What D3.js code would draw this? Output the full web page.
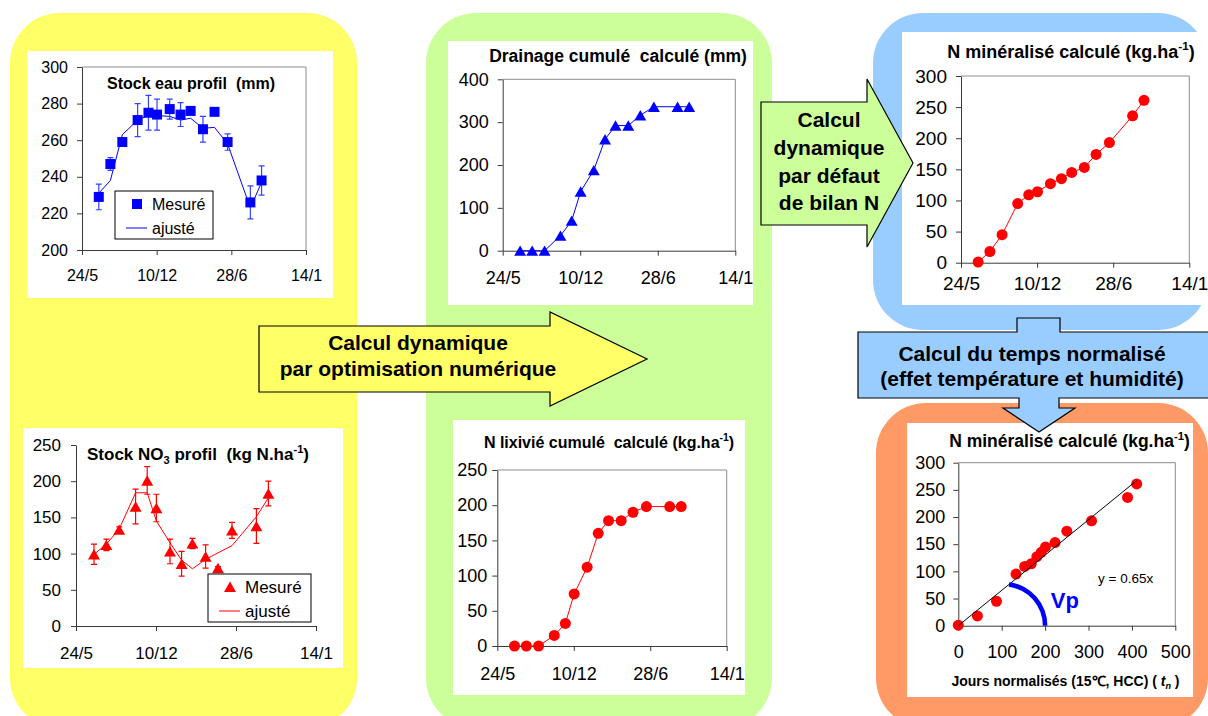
<!DOCTYPE html>
<html>
<head>
<meta charset="utf-8">
<script src="https://cdn.jsdelivr.net/npm/d3@7"></script>
<style>
  body { margin: 0; background: #fff; }
  svg { display: block; font-family: "Liberation Sans", Arial, sans-serif; }
  svg text { white-space: pre; }
</style>
</head>
<body>
<div id="figure"></div>
<script>
// x axis of the time charts: days counted from 24/5
const dateTicks = [0, 200, 400, 600];
const dateTickLabels = ["24/5", "10/12", "28/6", "14/1"];
const sampleDays = [45, 76, 108, 149, 178, 201, 235, 264, 291, 324, 355, 390, 451, 481];

// stock eau profil (mm)
const waterMeasured = [229, 247, 259, 271, 275, 274, 277, 274, 276, 266, 275.5, 259, 226, 238];
const waterError = [7, 3.5, 2, 9, 9.5, 8.5, 5.5, 6.5, 2, 7, 1.5, 4.5, 9, 8];
const waterFitted = [231, 238, 263, 271, 273.5, 273.5, 273, 271, 272, 266.5, 267, 258, 223, 237];

// stock NO3 profil (kg N/ha)
const nitrateMeasured = [99, 112, 133, 165, 201, 163, 103, 86, 114, 96, 80, 132, 138, 183];
const nitrateError = [14, 8, 4, 24, 19, 19, 17, 17, 7, 16, 2, 11, 24, 17];
const nitrateFitted = [99, 113, 134, 184, 184, 145, 115, 91, 79, 92, 101, 111, 151, 177];

// calculated series
const drainage = [0, 0, 0, 35, 70, 138, 188, 260, 292, 292, 316, 336, 336, 336];
const leachedN = [0, 0, 0, 15, 32, 74, 112, 160, 178, 178, 190, 198, 198, 198];
const mineralizedN = [1, 18, 45, 95, 109, 114, 127, 135, 145, 153, 174, 193, 236, 261];
const normalizedDays = [0, 44, 88, 133, 153, 168, 181, 191, 201, 223, 250, 307, 390, 411];
const slopeVp = 0.65;

const normTicks = [0, 100, 200, 300, 400, 500];
const waterTicks = [200, 220, 240, 260, 280, 300];
const nitrateTicks = [0, 50, 100, 150, 200, 250];
const drainageTicks = [0, 100, 200, 300, 400];
const leachedTicks = [0, 50, 100, 150, 200, 250];
const mineralTicks = [0, 50, 100, 150, 200, 250, 300];

const BLUE = "#0000ff", RED = "#ff0000", AXIS = "#3a3a3a";

const svg = d3.select("#figure").append("svg")
    .attr("width", 1208)
    .attr("height", 716);

svg.append("rect").attr("width", 1208).attr("height", 716).attr("fill", "#fff");

// rounded coloured backgrounds
[
    {x: 10, y: 13, w: 347, h: 715, fill: "#ffff66"},
    {x: 426, y: 13, w: 346, h: 715, fill: "#ccff99"},
    {x: 873, y: 13, w: 335, h: 317, fill: "#99ccff"},
    {x: 876, y: 403, w: 332, h: 325, fill: "#ff9966"}
].forEach(p => {
    svg.append("rect")
        .attr("x", p.x).attr("y", p.y)
        .attr("width", p.w).attr("height", p.h)
        .attr("rx", 50)
        .attr("fill", p.fill);
});

// text with sub / superscripts
function richText(sel, parts, size) {
    let back = 0;
    parts.forEach(p => {
        const part = typeof p === "string" ? {t: p} : p;
        const ts = sel.append("tspan").text(part.t);
        let shift = part.sup ? -0.42 * size : part.sub ? 0.22 * size : 0;
        if (back || shift) ts.attr("dy", back + shift);
        if (shift) ts.attr("font-size", size * 0.65);
        if (part.it) ts.attr("font-style", "italic");
        back = -shift;
    });
}

function chart(c) {
    svg.append("rect")
        .attr("x", c.box[0]).attr("y", c.box[1])
        .attr("width", c.box[2]).attr("height", c.box[3])
        .attr("fill", "#fff");

    const [x0, y0, x1, y1] = c.plot;
    const x = d3.scaleLinear().domain(c.xDomain).range([x0, x1]);
    const y = d3.scaleLinear().domain(c.yDomain).range([y1, y0]);
    const g = svg.append("g");

    if (c.frame) {
        g.append("path")
            .attr("d", `M${x0},${y0}H${x1}V${y1}`)
            .attr("fill", "none")
            .attr("stroke", "#8c8c8c");
    }

    const xAxis = g.append("g")
        .attr("transform", `translate(0,${y1})`)
        .call(d3.axisBottom(x).tickValues(c.xTicks).tickFormat(c.xFormat)
            .tickSize(5).tickSizeOuter(0).tickPadding(c.xPad));
    const yAxis = g.append("g")
        .attr("transform", `translate(${x0},0)`)
        .call(d3.axisLeft(y).tickValues(c.yTicks)
            .tickSize(5).tickSizeOuter(0).tickPadding(c.yPad));

    [xAxis, yAxis].forEach(a => {
        a.attr("font-family", null).attr("font-size", c.font);
        a.select(".domain").attr("stroke", AXIS);
        a.selectAll(".tick line").attr("stroke", AXIS);
        a.selectAll("text").attr("fill", "#000");
    });

    const title = g.append("text")
        .attr("x", c.title.x).attr("y", c.title.y)
        .attr("text-anchor", "middle")
        .attr("font-weight", "bold")
        .attr("font-size", c.title.size);
    richText(title, c.title.parts, c.title.size);

    return {g, x, y};
}

function line(ch, xs, ys, color, width) {
    ch.g.append("path")
        .datum(xs.map((d, i) => [d, ys[i]]))
        .attr("fill", "none")
        .attr("stroke", color)
        .attr("stroke-width", width || 1)
        .attr("d", d3.line().x(d => ch.x(d[0])).y(d => ch.y(d[1])));
}

function errorBars(ch, xs, ys, err, color) {
    const bars = ch.g.append("g").attr("stroke", color).attr("stroke-width", 1.2);
    xs.forEach((d, i) => {
        const cx = ch.x(d), top = ch.y(ys[i] + err[i]), bot = ch.y(ys[i] - err[i]);
        bars.append("path").attr("d", `M${cx},${top}V${bot}M${cx - 3},${top}h6M${cx - 3},${bot}h6`);
    });
}

function markers(ch, xs, ys, kind, color) {
    const sel = ch.g.append("g").selectAll("path")
        .data(xs.map((d, i) => [d, ys[i]]))
        .join("path")
        .attr("fill", color);
    if (kind === "circle") {
        sel.attr("d", d3.symbol(d3.symbolCircle, 95))
            .attr("transform", d => `translate(${ch.x(d[0])},${ch.y(d[1])})`);
    } else if (kind === "square") {
        sel.attr("d", d3.symbol(d3.symbolSquare, 100))
            .attr("transform", d => `translate(${ch.x(d[0])},${ch.y(d[1])})`);
    } else {
        sel.attr("d", d3.symbol(d3.symbolTriangle, 62))
            .attr("transform", d => `translate(${ch.x(d[0])},${ch.y(d[1]) + 1.7})`);
    }
}

function legend(box, kind, color, size) {
    const g = svg.append("g");
    g.append("rect")
        .attr("x", box[0]).attr("y", box[1])
        .attr("width", box[2]).attr("height", box[3])
        .attr("fill", "#fff").attr("stroke", "#000");
    const mx = box[0] + 22, r1 = box[1] + 13, r2 = box[1] + box[3] - 11;
    g.append("path")
        .attr("d", d3.symbol(kind === "square" ? d3.symbolSquare : d3.symbolTriangle, kind === "square" ? 100 : 62))
        .attr("transform", `translate(${mx},${r1 + (kind === "square" ? 0 : 1.5)})`)
        .attr("fill", color);
    g.append("line")
        .attr("x1", mx - 11).attr("x2", mx + 10)
        .attr("y1", r2).attr("y2", r2)
        .attr("stroke", color);
    [["Mesuré", r1], ["ajusté", r2]].forEach(([t, yy]) => {
        g.append("text")
            .attr("x", box[0] + 37).attr("y", yy)
            .attr("dy", "0.36em")
            .attr("font-size", size)
            .text(t);
    });
}

const dateFormat = (d, i) => dateTickLabels[i];

// ---- Stock eau profil
const water = chart({
    box: [27, 51, 306, 247], plot: [82, 67, 306, 250],
    xDomain: [0, 600], yDomain: [200, 300],
    xTicks: dateTicks, xFormat: dateFormat, yTicks: waterTicks,
    font: 16, xPad: 15, yPad: 9, frame: true,
    title: {x: 191, y: 89, size: 16, parts: ["Stock eau profil  (mm)"]}
});
line(water, sampleDays, waterFitted, BLUE);
errorBars(water, sampleDays, waterMeasured, waterError, "#3344ff");
markers(water, sampleDays, waterMeasured, "square", BLUE);
legend([115, 191, 98, 48], "square", BLUE, 16);

// ---- Stock NO3 profil
const nitrate = chart({
    box: [23, 428, 320, 240], plot: [76, 445, 316, 626],
    xDomain: [0, 600], yDomain: [0, 250],
    xTicks: dateTicks, xFormat: dateFormat, yTicks: nitrateTicks,
    font: 17, xPad: 16, yPad: 10, frame: false,
    title: {x: 198, y: 460, size: 17, parts: ["Stock NO", {t: "3", sub: true}, " profil  (kg N.ha", {t: "-1", sup: true}, ")"]}
});
line(nitrate, sampleDays, nitrateFitted, RED);
errorBars(nitrate, sampleDays, nitrateMeasured, nitrateError, RED);
markers(nitrate, sampleDays, nitrateMeasured, "triangle", RED);
legend([208, 574, 103, 48], "triangle", RED, 17);

// ---- Drainage cumulé calculé
const drain = chart({
    box: [448, 41, 305, 264], plot: [502.7, 79.3, 735.3, 250.7],
    xDomain: [0, 600], yDomain: [0, 400],
    xTicks: dateTicks, xFormat: dateFormat, yTicks: drainageTicks,
    font: 18, xPad: 16, yPad: 9, frame: true,
    title: {x: 618, y: 62, size: 17.5, parts: ["Drainage cumulé  calculé (mm)"]}
});
line(drain, sampleDays, drainage, BLUE);
markers(drain, sampleDays, drainage, "triangle", BLUE);

// ---- N lixivié cumulé calculé
const leach = chart({
    box: [453, 420, 292, 275], plot: [497.3, 470, 726.7, 646],
    xDomain: [0, 600], yDomain: [0, 250],
    xTicks: dateTicks, xFormat: dateFormat, yTicks: leachedTicks,
    font: 18, xPad: 16, yPad: 5, frame: true,
    title: {x: 609, y: 448, size: 16, parts: ["N lixivié cumulé  calculé (kg.ha", {t: "-1", sup: true}, ")"]}
});
line(leach, sampleDays, leachedN, RED);
markers(leach, sampleDays, leachedN, "circle", RED);

// ---- N minéralisé calculé (dates)
const mineral = chart({
    box: [902, 32, 306, 273], plot: [961, 76, 1189.3, 262.7],
    xDomain: [0, 600], yDomain: [0, 300],
    xTicks: dateTicks, xFormat: dateFormat, yTicks: mineralTicks,
    font: 19, xPad: 9, yPad: 9, frame: true,
    title: {x: 1071, y: 58, size: 18, parts: ["N minéralisé calculé (kg.ha", {t: "-1", sup: true}, ")"]}
});
line(mineral, sampleDays, mineralizedN, RED);
markers(mineral, sampleDays, mineralizedN, "circle", RED);

// ---- N minéralisé calculé (jours normalisés)
const norm = chart({
    box: [907, 423, 286, 274], plot: [958.3, 462.7, 1175.3, 625.7],
    xDomain: [0, 500], yDomain: [0, 300],
    xTicks: normTicks, xFormat: d => d, yTicks: mineralTicks,
    font: 18, xPad: 15, yPad: 8, frame: true,
    title: {x: 1069.5, y: 447, size: 17.5, parts: ["N minéralisé calculé (kg.ha", {t: "-1", sup: true}, ")"]}
});
markers(norm, normalizedDays, mineralizedN, "circle", RED);
const xMax = d3.max(normalizedDays);
line(norm, [0, xMax], [0, slopeVp * xMax], "#000", 1);

const xLab = norm.g.append("text")
    .attr("x", 1065.5).attr("y", 686)
    .attr("text-anchor", "middle")
    .attr("font-weight", "bold")
    .attr("font-size", 14);
richText(xLab, ["Jours normalisés (15℃, HCC) ( ", {t: "t", it: true}, {t: "n", it: true, sub: true}, " )"], 14);

norm.g.append("text")
    .attr("x", norm.x(322)).attr("y", norm.y(79))
    .attr("font-size", 13.5)
    .text(`y = ${slopeVp}x`);

// Vp angle: circle arc from the x axis up to the regression line
const arcCentre = 104, arcEnd = 200;
{
    const cx = norm.x(arcCentre), cy = norm.y(0);
    const R = norm.x(arcEnd) - cx;
    const dx = norm.x(100) - norm.x(0), dy = norm.y(slopeVp * 100) - norm.y(0);
    const len = Math.hypot(dx, dy), ux = dx / len, uy = dy / len;
    const a = norm.x(0) - cx;
    const t = -a * ux + Math.sqrt(a * a * ux * ux - a * a + R * R);
    const px = norm.x(0) + t * ux - cx, py = cy + t * uy - cy;
    norm.g.append("path")
        .attr("transform", `translate(${cx},${cy})`)
        .attr("d", d3.arc()({innerRadius: R - 2.3, outerRadius: R + 2.3,
            startAngle: Math.atan2(px, -py), endAngle: Math.PI / 2}))
        .attr("fill", BLUE);
}
norm.g.append("text")
    .attr("x", norm.x(213)).attr("y", norm.y(32))
    .attr("font-size", 22).attr("font-weight", "bold")
    .attr("fill", BLUE)
    .text("Vp");

// ---- arrows with their captions
function arrow(d, fill, lines, cx, y0, step) {
    svg.append("path").attr("d", d).attr("fill", fill).attr("stroke", "#000").attr("stroke-width", 1.2);
    lines.forEach((t, i) => {
        svg.append("text")
            .attr("x", cx).attr("y", y0 + i * step)
            .attr("text-anchor", "middle")
            .attr("font-weight", "bold")
            .attr("font-size", 21)
            .text(t);
    });
}

arrow("M259,326H550V312L647,359L550,406V392H259Z", "#ffff66",
    ["Calcul dynamique", "par optimisation numérique"], 418, 350, 25.5);
arrow("M761,102H867V79L913,163L867,247V225H761Z", "#ccff99",
    ["Calcul", "dynamique", "par défaut", "de bilan N"], 829, 127, 27.8);
arrow("M858,332H1017V318H1060V332H1215V398H1059V408H1075L1039,432L1003,408H1019V398H858Z", "#99ccff",
    ["Calcul du temps normalisé", "(effet température et humidité)"], 1032, 361, 25);
</script>
</body>
</html>
